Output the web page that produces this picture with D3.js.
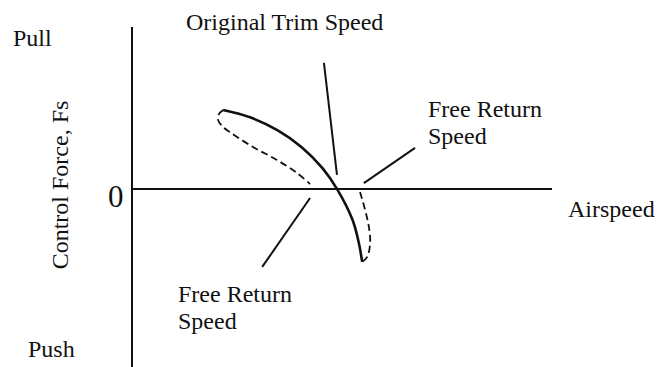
<!DOCTYPE html>
<html>
<head>
<meta charset="utf-8">
<script src="https://cdn.jsdelivr.net/npm/d3@7/dist/d3.min.js"></script>
<style>
  html, body { margin: 0; padding: 0; background: #fff; }
  svg { display: block; }
  text { font-family: "Liberation Serif", "Times New Roman", serif; fill: #111; }
</style>
</head>
<body>
<svg id="chart" width="661" height="367"></svg>
<script>
// Control force vs airspeed (stick-free return behaviour), schematic units.
// Solid curve: control force through the original trim speed.
const solidSpeed = [21.7, 28.1, 34.6, 40.4, 45.4, 48.8, 52.5, 54.0, 54.8];
const solidForce = [48.7, 44.2, 36.3, 25.8, 12.7, 0.0, -19.1, -33.3, -45.1];

// Dashed branch, upper-left part (ends at the lower free return speed).
const dashLeftSpeed = [21.7, 20.7, 20.5, 21.7, 23.3, 28.8, 34.5, 39.3, 42.4];
const dashLeftForce = [48.7, 46.2, 42.5, 38.2, 35.1, 25.9, 17.9, 9.8, 3.0];

// Dashed branch, lower-right part (starts at the upper free return speed).
const dashRightSpeed = [54.3, 55.5, 56.4, 56.7, 56.0, 54.8];
const dashRightForce = [-1.9, -13.0, -23.5, -33.4, -42.0, -45.1];

// Leader lines for the annotations: [start, end]
const leaderNames = ["Original Trim Speed", "Free Return Speed (upper)", "Free Return Speed (lower)"];
const leaderSpeed = [[45.7, 48.8], [67.4, 55.2], [42.4, 31.0]];
const leaderForce = [[77.8, 8.6], [25.3, 3.6], [-5.6, -48.2]];

// Axis extents
const speedDomain = [0, 100];
const forceDomain = [-110, 100];

const svg = d3.select("#chart");
const x = d3.scaleLinear().domain(speedDomain).range([132, 552]);
const y = d3.scaleLinear().domain(forceDomain).range([367, 27]);

const line = d3.line().x(d => x(d[0])).y(d => y(d[1])).curve(d3.curveCatmullRom.alpha(0.5));
const zip = (a, b) => a.map((v, i) => [v, b[i]]);

// Axes: vertical force axis, horizontal airspeed axis through zero force
svg.append("line")
  .attr("x1", x(0)).attr("x2", x(0))
  .attr("y1", y(forceDomain[1])).attr("y2", y(forceDomain[0]))
  .attr("stroke", "#111").attr("stroke-width", 2);
svg.append("line")
  .attr("x1", x(0)).attr("x2", x(speedDomain[1]))
  .attr("y1", y(0)).attr("y2", y(0))
  .attr("stroke", "#111").attr("stroke-width", 2);

// Curves
svg.append("path")
  .attr("d", line(zip(solidSpeed, solidForce)))
  .attr("fill", "none").attr("stroke", "#111").attr("stroke-width", 2.6);
[zip(dashLeftSpeed, dashLeftForce), zip(dashRightSpeed, dashRightForce)].forEach(pts => {
  svg.append("path")
    .attr("d", line(pts))
    .attr("fill", "none").attr("stroke", "#111").attr("stroke-width", 1.8)
    .attr("stroke-dasharray", "7,4");
});

// Leader lines
leaderNames.forEach((n, i) => {
  svg.append("line")
    .attr("x1", x(leaderSpeed[i][0])).attr("y1", y(leaderForce[i][0]))
    .attr("x2", x(leaderSpeed[i][1])).attr("y2", y(leaderForce[i][1]))
    .attr("stroke", "#111").attr("stroke-width", 2);
});

// Labels
const label = (lines, px, py, size) => {
  const t = svg.append("text").attr("x", px).attr("y", py).attr("font-size", size);
  [].concat(lines).forEach((s, i) => {
    t.append("tspan").attr("x", px).attr("dy", i === 0 ? 0 : 27).text(s);
  });
  return t;
};

label("Pull", 13, 46, 24);
label("Push", 28, 357, 24);
label("0", 108, 207, 31);
label("Airspeed", 568, 217, 24);
label("Original Trim Speed", 186, 30, 24);
label(["Free Return", "Speed"], 428, 117, 24);
label(["Free Return", "Speed"], 178, 302, 24);

svg.append("text")
  .attr("transform", "translate(68,185) rotate(-90)")
  .attr("text-anchor", "middle")
  .attr("font-size", 24)
  .text("Control Force, Fs");
</script>
</body>
</html>
